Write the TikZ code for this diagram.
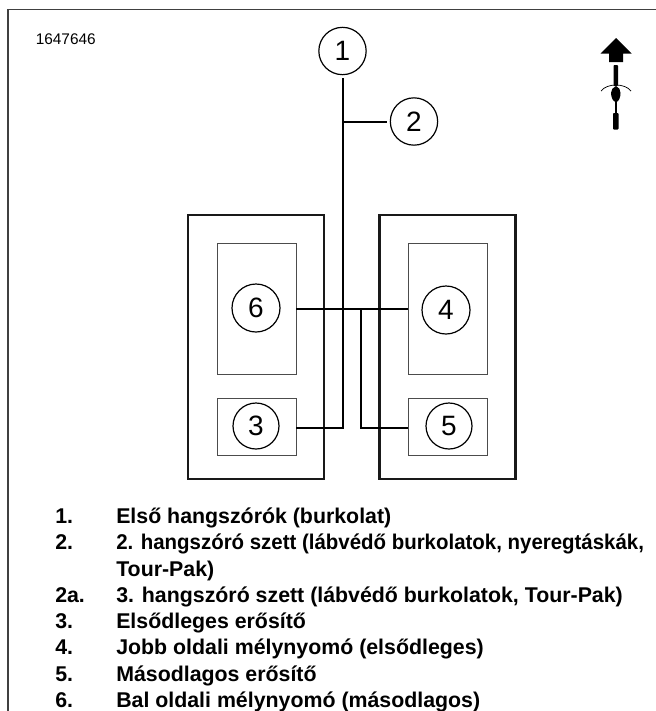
\documentclass[tikz,border=0pt]{standalone}
\usepackage{fontspec}
\setmainfont{Liberation Sans}
\tikzset{
  px/.style={x=0.75pt,y=-0.75pt},
  callout/.style={circle,draw=black,line width=0.9pt,minimum size=35.5pt,inner sep=0pt,font=\fontsize{21}{24}\selectfont},
  outerbox/.style={draw=black!90,line width=1.7pt,inner sep=0pt,minimum width=102pt,minimum height=198pt},
  innerbox/.style={draw=black!70,line width=0.75pt,inner sep=0pt,minimum width=59.25pt},
  wire/.style={draw=black,line width=1.05pt},
  lnum/.style={anchor=base west,inner sep=0pt,font=\fontsize{16}{19}\selectfont\bfseries},
  ltext/.style={anchor=base west,inner sep=0pt,font=\fontsize{16}{19}\selectfont\bfseries}
}
\begin{document}
\begin{tikzpicture}[px]
\useasboundingbox (0,0) rectangle (656,711);
\draw[black!75,line width=1.1pt] (8,711) -- (8,9.5) -- (656,9.5);
\node[anchor=base west,inner sep=0pt,font=\fontsize{11.55}{14}\selectfont] (code) at (35.5,44) {1647646};
% boxes
\node[outerbox] (L) at (256,347) {};
\node[outerbox] (R) at (447.5,347) {};
\node[innerbox,minimum height=98.25pt] (Lup) at (256.5,308.5) {};
\node[innerbox,minimum height=98.25pt] (Rup) at (447.5,308.5) {};
\node[innerbox,minimum height=42.75pt] (Llo) at (256.5,426.5) {};
\node[innerbox,minimum height=42.75pt] (Rlo) at (447.5,426.5) {};
% callouts
\node[callout] (n1) at (342.5,51) {1};
\node[callout] (n2) at (414,121.5) {2};
\node[callout,minimum size=36pt] (n6) at (256,308) {6};
\node[callout,minimum size=36pt] (n4) at (446,310) {4};
\node[callout,minimum size=34.5pt] (n3) at (256,426) {3};
\node[callout,minimum size=34.5pt] (n5) at (449,426) {5};
% wires
\coordinate (top) at (343,78);
\coordinate (branch) at (343,122);
\coordinate (corner3) at (343,428);
\coordinate (start3) at (296,428);
\coordinate (tap5) at (361,309);
\coordinate (corner5) at (361,428);
\coordinate (end5) at (408,428);
\coordinate (w6) at (296,309);
\coordinate (w4) at (408,309);
\coordinate (e2) at (387,122);
\draw[wire,line join=miter] (top) -- (corner3) -- (start3);
\draw[wire] (branch) -- (e2);
\draw[wire] (w6) -- (w4);
\draw[wire] (tap5) -- (corner5) -- (end5);
% direction icon
\fill[black] (616,38) -- (631.5,53.5) -- (623,53.5) -- (623,62) -- (609,62) -- (609,53.5) -- (600.5,53.5) -- cycle;
\fill[black,rounded corners=0.6pt] (613.5,65) rectangle (618,86);
\draw[black,line width=0.55pt] (601,91) .. controls (607,83) and (625,83) .. (631,91);
\fill[black] (616,86) .. controls (619,87) and (620.5,90) .. (620.5,93) .. controls (620.5,97) and (619,102) .. (616,102) .. controls (613,102) and (611,97) .. (611,93) .. controls (611,90) and (613,87) .. (616,86) -- cycle;
\draw[black,line width=0.9pt] (616,100) -- (616,114);
\fill[black,rounded corners=0.6pt] (613,113) rectangle (618.5,129.5);
% legend
\foreach \nm/\y/\num in {a/523/1.,b/549.5/2.,d/602/2a.,e/628/3.,f/654/4.,g/681/5.,h/707.5/6.}{
  \node[lnum] (num\nm) at (55,\y) {\num};
}
\node[ltext] (ta) at (116,523) {Első hangszórók (burkolat)};
\node[ltext] (tb) at (116,549.5) {\scalebox{0.958}[1]{2. hangszóró szett (lábvédő burkolatok, nyeregtáskák,}};
\node[ltext] (tc) at (116,576.5) {Tour-Pak)};
\node[ltext] (td) at (116,602) {3. hangszóró szett (lábvédő burkolatok, Tour-Pak)};
\node[ltext] (te) at (116,628) {Elsődleges erősítő};
\node[ltext] (tf) at (116,654) {Jobb oldali mélynyomó (elsődleges)};
\node[ltext] (tg) at (116,681) {Másodlagos erősítő};
\node[ltext] (th) at (116,707.5) {Bal oldali mélynyomó (másodlagos)};
\end{tikzpicture}
\end{document}
